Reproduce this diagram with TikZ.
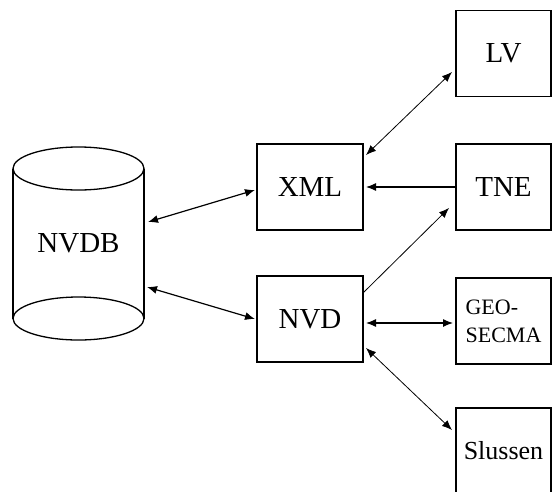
\documentclass[tikz,border=0pt]{standalone}
\usepackage{fontspec}
\setmainfont{Liberation Serif}
\usetikzlibrary{arrows.meta,positioning}

\begin{document}
\begin{tikzpicture}[
    x=1pt, y=-1pt,
    >={Latex[length=10pt,width=8pt]},
    font=\fontsize{29}{32}\selectfont,
    box/.style={
		rectangle,
		draw=black,
		line width=1.3pt,
		minimum width=106pt,
		minimum height=86pt,
		outer sep=0pt
	},
	side/.style={
		box,
		minimum width=95pt
	},
	link/.style={
		line width=1.2pt
	},
	thinlink/.style={
		line width=0.8pt
	}
  ]
  \useasboundingbox (0,0) rectangle (552,491);

    % the database drum on the left
  \node [minimum width=131pt, minimum height=193pt, outer sep=0pt] (nvdb) at (78.5,243.5) {NVDB};
  \draw [line width=1.3pt] ([shift={(0,21.5)}]nvdb.north) ellipse [x radius=65.5pt, y radius=21.5pt];
  \draw [line width=1.3pt] ([shift={(0,-21.5)}]nvdb.south) ellipse [x radius=65.5pt, y radius=21.5pt];
  \draw [line width=1.3pt] (nvdb.north west) ++(0,21.5) -- ++(0,150);
  \draw [line width=1.3pt] (nvdb.north east) ++(0,21.5) -- ++(0,150);

    % middle blocks
  \node [box] (xml) at (310,187) {XML};
  \node [box] (nvd) at (310,319) {NVD};

    % blocks on the right
  \node [side] (lv) at (503.5,53.5) {LV};
  \node [side] (tne) at (503.5,187) {TNE};
  \node [side, align=left, font=\fontsize{22}{28}\selectfont] (geo) at (503.5,321) {GEO-\\SECMA};
  \node [side, font=\fontsize{26}{30}\selectfont] (slussen) at (503.5,451) {Slussen};

 \draw [<->, link] ([shift={(4,-21.5)}]nvdb.east) -- ([shift={(-2,3)}]xml.west);
 \draw [<->, link] ([shift={(3,43.5)}]nvdb.east) -- ([shift={(-2,0)}]nvd.west);
 \draw [<->, thinlink] ([shift={(3,11)}]xml.north east) -- ([shift={(-4,18.5)}]lv.west);
 \draw [->, link] (tne.west) -- ([xshift=3pt]xml.east);
 \draw [->, thinlink] ([shift={(0,17)}]nvd.north east) -- ([shift={(-7,21)}]tne.west);
 \draw [<->, link] ([shift={(3,4)}]nvd.east) -- ([shift={(-3,2)}]geo.west);
 \draw [<->, thinlink] ([shift={(3,-14)}]nvd.south east) -- ([shift={(-4,-21)}]slussen.west);

\end{tikzpicture}
\end{document}
